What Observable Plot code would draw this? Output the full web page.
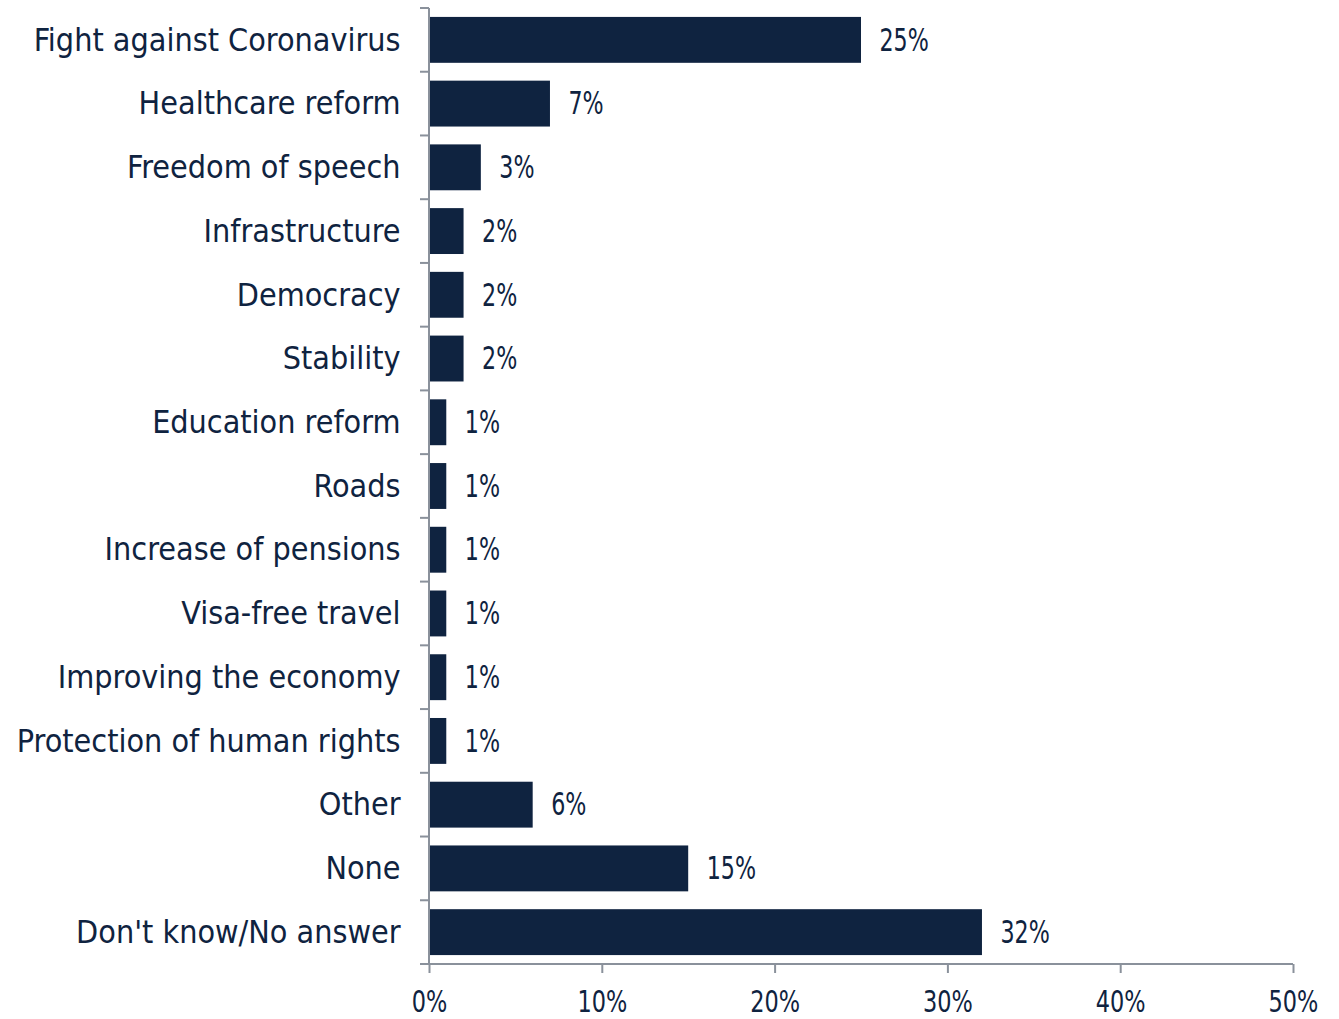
<!DOCTYPE html>
<html>
<head>
<meta charset="utf-8">
<script src="https://cdn.jsdelivr.net/npm/d3@7"></script>
<script src="https://cdn.jsdelivr.net/npm/@observablehq/plot@0.6"></script>
<style>
  html, body { margin: 0; padding: 0; background: #fff; }
  #chart svg { display: block; }
</style>
</head>
<body>
<div id="chart"></div>
<script>
const categories = [
  "Fight against Coronavirus",
  "Healthcare reform",
  "Freedom of speech",
  "Infrastructure",
  "Democracy",
  "Stability",
  "Education reform",
  "Roads",
  "Increase of pensions",
  "Visa-free travel",
  "Improving the economy",
  "Protection of human rights",
  "Other",
  "None",
  "Don't know/No answer"
];
const values = [25, 7, 3, 2, 2, 2, 1, 1, 1, 1, 1, 1, 6, 15, 32];
const xTicks = [0, 10, 20, 30, 40, 50];

const data = categories.map((c, i) => ({category: c, value: values[i]}));

const navy = "#0f2340";
const gray = "#8a919b";
const labelFont = "'DejaVu Sans Condensed', 'DejaVu Sans', sans-serif";
const numFont = "'DejaVu Sans Condensed', 'DejaVu Sans', sans-serif";

const paddingInner = 0.28;

function axisLines(index, scales, values, dimensions) {
  const y = scales.y;
  const x = scales.x;
  const bw = y.bandwidth();
  const step = bw / (1 - paddingInner);
  const g = d3.create("svg:g");
  const x0 = x(0);
  const edges = categories.map(c => y(c) - (step - bw) / 2);
  edges.push(y(categories[categories.length - 1]) + bw + (step - bw) / 2);
  for (const e of edges) {
    g.append("line")
      .attr("x1", x0 - 9).attr("x2", x0)
      .attr("y1", e).attr("y2", e)
      .attr("stroke", gray).attr("stroke-width", 2);
  }
  g.append("line")
    .attr("x1", x0).attr("x2", x0)
    .attr("y1", edges[0]).attr("y2", edges[edges.length - 1])
    .attr("stroke", gray).attr("stroke-width", 2);
  const yb = edges[edges.length - 1];
  g.append("line")
    .attr("x1", x0).attr("x2", x(50))
    .attr("y1", yb).attr("y2", yb)
    .attr("stroke", gray).attr("stroke-width", 2);
  return g.node();
}

const chart = Plot.plot({
  width: 1339,
  height: 1019,
  marginLeft: 429,
  marginRight: 46,
  marginTop: 8,
  marginBottom: 55,
  style: {fontFamily: labelFont, color: navy, background: "#fff"},
  x: {domain: [0, 50], ticks: xTicks, tickFormat: d => d + "%", label: null},
  y: {domain: categories, paddingInner: paddingInner, paddingOuter: paddingInner / 2, round: false, label: null},
  marks: [
    Plot.barX(data, {x: "value", y: "category", fill: navy}),
    Plot.text(data, {
      x: "value", y: "category", text: d => d.value + "%",
      textAnchor: "start", dx: 18, fill: navy, fontSize: 32, fontFamily: numFont,
      className: "bar-label"
    }),
    Plot.axisY({tickSize: 0, tickPadding: 29, fontSize: 32, fill: navy, fontFamily: labelFont}),
    axisLines,
    Plot.axisX({
      ticks: xTicks, tickSize: 9, tickPadding: 17, fontSize: 30, fill: navy,
      stroke: gray, strokeWidth: 2, strokeOpacity: 1, fontFamily: numFont, tickFormat: d => d + "%",
      className: "tick-label"
    })
  ]
});
document.getElementById("chart").appendChild(chart);

// Narrow the numeric labels horizontally to match the condensed numerals of the original
function squash(selector, factor) {
  chart.querySelectorAll(selector).forEach(t => {
    const w = t.getComputedTextLength();
    if (w > 0) {
      t.setAttribute("textLength", (w * factor).toFixed(2));
      t.setAttribute("lengthAdjust", "spacingAndGlyphs");
    }
  });
}
squash(".bar-label text, text.bar-label", 0.77);
squash(".tick-label text, text.tick-label", 0.83);
</script>
</body>
</html>
